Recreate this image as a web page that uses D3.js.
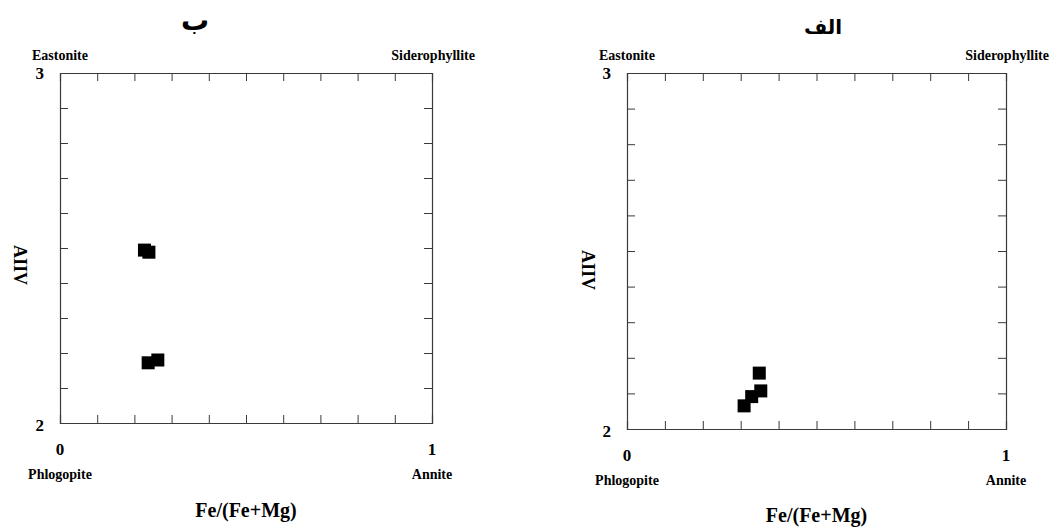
<!DOCTYPE html>
<html><head><meta charset="utf-8">
<script src="https://cdn.jsdelivr.net/npm/d3@7"></script>
<style>
html,body{margin:0;padding:0;background:#fff;}
</style></head>
<body><svg id="c" width="1058" height="528"></svg>
<script>
// Panel titles (Persian)
const panelTitles = ["ب", "الف"];
// Left panel (ب) points: Fe/(Fe+Mg), AlIV
const leftX = [0.227, 0.239, 0.237, 0.263];
const leftY = [2.494, 2.488, 2.172, 2.180];
// Right panel (الف) points
const rightX = [0.349, 0.353, 0.329, 0.309];
const rightY = [2.157, 2.107, 2.091, 2.065];
// Axis domains and tick labels
const xDomain = [0, 1];
const yDomain = [2, 3];
const xTickLabels = ["0", "1"];
const yTickLabels = ["2", "3"];
const cornerLabels = ["Eastonite", "Siderophyllite", "Phlogopite", "Annite"];
const xTitle = "Fe/(Fe+Mg)";
const yTitle = "AIIV";

const SERIF = "'Liberation Serif', 'Times New Roman', Times, 'DejaVu Serif', serif";
const svg = d3.select("#c");

function txt(g, x, y, s, size, anchor){
  return g.append("text").attr("x",x).attr("y",y).attr("font-family",SERIF)
    .attr("font-weight","bold").attr("font-size",size)
    .attr("text-anchor",anchor||"start").attr("fill","#000").text(s);
}

function panel(o){
  const g = svg.append("g");
  const x = d3.scaleLinear().domain(xDomain).range([o.l, o.r]);
  const y = d3.scaleLinear().domain(yDomain).range([o.b, o.t]);
  const ticks = d3.range(0, 1.0001, 0.1);
  const yt = d3.range(2, 3.0001, 0.1);
  const stroke = "#3a3a3a";
  g.append("g").attr("transform",`translate(0,${o.b})`)
    .call(d3.axisTop(x).tickValues(ticks).tickSize(8).tickFormat(""));
  g.append("g").attr("transform",`translate(0,${o.t})`)
    .call(d3.axisBottom(x).tickValues(ticks).tickSize(8).tickFormat(""));
  g.append("g").attr("transform",`translate(${o.l},0)`)
    .call(d3.axisRight(y).tickValues(yt).tickSize(8).tickFormat(""));
  g.append("g").attr("transform",`translate(${o.r},0)`)
    .call(d3.axisLeft(y).tickValues(yt).tickSize(8).tickFormat(""));
  g.selectAll(".domain").attr("stroke",stroke).attr("stroke-width",1.2);
  g.selectAll(".tick line").attr("stroke",stroke).attr("stroke-width",1);

  const s = 13;
  g.selectAll("rect.pt").data(d3.zip(o.xs, o.ys)).join("rect")
    .attr("class","pt")
    .attr("x", d => x(d[0]) - s/2).attr("y", d => y(d[1]) - s/2)
    .attr("width", s).attr("height", s).attr("fill","#000");

  g.append("text").attr("x",o.titleX).attr("y",o.titleY)
    .attr("font-family","'DejaVu Sans', sans-serif").attr("font-weight","bold")
    .attr("text-anchor","middle").attr("font-size",o.titleSize).attr("fill","#000").text(o.title);
  txt(g, o.l-28, o.t-13, cornerLabels[0], 14);
  txt(g, o.r+43, o.t-13, cornerLabels[1], 14, "end");
  txt(g, o.l-16, y(3)+6, yTickLabels[1], 17, "end");
  txt(g, o.l-16, y(2)+8, yTickLabels[0], 17, "end");
  txt(g, x(0), o.b+32, xTickLabels[0], 17, "middle");
  txt(g, x(1), o.b+32, xTickLabels[1], 17, "middle");
  txt(g, x(0), o.b+56, cornerLabels[2], 14, "middle");
  txt(g, x(1), o.b+56, cornerLabels[3], 14, "middle");
  txt(g, (o.l+o.r)/2, o.xTitleY, xTitle, 20, "middle");
  g.append("text").attr("transform",`translate(${o.yTitleX},${o.yTitleY}) rotate(90)`)
    .attr("font-family",SERIF).attr("font-weight","bold").attr("fill","#000")
    .attr("text-anchor","middle").attr("dy","0.35em").attr("font-size",18).text(yTitle);
}

panel({l:60, r:432, t:73, b:423, xs:leftX, ys:leftY, title:panelTitles[0], titleSize:28, titleX:195, titleY:30, xTitleY:517, yTitleX:20, yTitleY:265});
panel({l:627, r:1006, t:73, b:429, xs:rightX, ys:rightY, title:panelTitles[1], titleSize:20, titleX:823, titleY:34, xTitleY:522, yTitleX:588, yTitleY:270});
</script></body></html>
